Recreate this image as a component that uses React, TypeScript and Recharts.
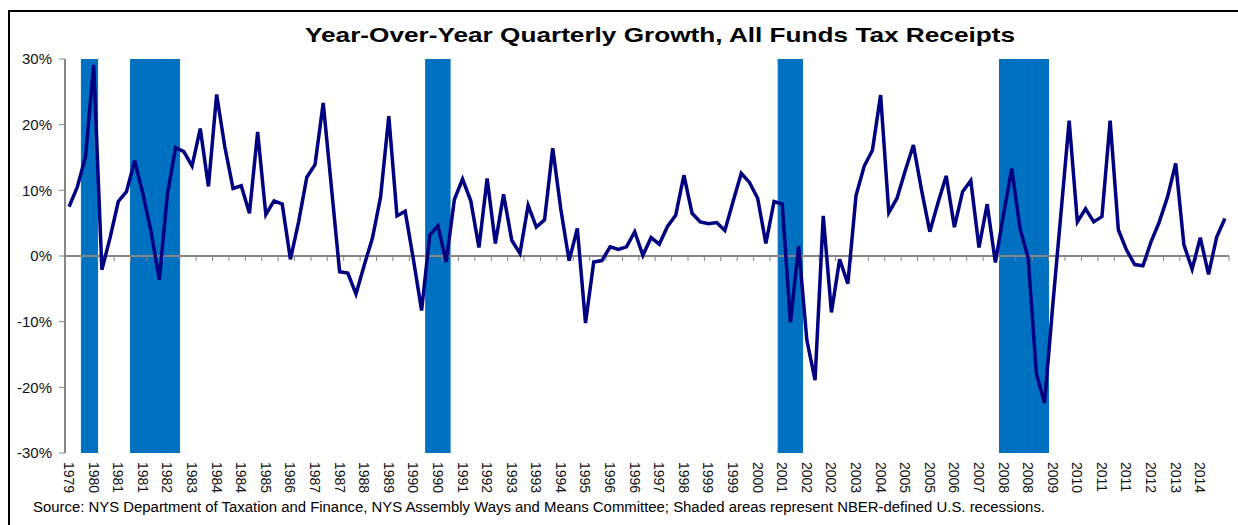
import { ComposedChart, Bar, Line, XAxis, YAxis, ReferenceLine } from 'recharts'

// Year-over-year growth of all funds tax receipts, % (1979Q3 .. 2014Q4)
const growth = [
  7.5, 10.5, 15.1, 29.1, -2.1, 2.8, 8.3, 9.8, 14.5, 9.5,
  3.7, -3.6, 9.5, 16.5, 15.9, 13.7, 19.4, 10.6, 24.6, 16.6,
  10.3, 10.7, 6.5, 18.9, 6.3, 8.4, 7.9, -0.5, 5.2, 12.0,
  13.9, 23.3, 10.5, -2.4, -2.6, -5.8, -1.4, 2.7, 9.0, 21.3,
  6.1, 6.8, -0.5, -8.3, 3.2, 4.6, -0.9, 8.6, 11.7, 8.4,
  1.3, 11.8, 1.9, 9.4, 2.4, 0.4, 7.7, 4.4, 5.5, 16.4,
  7.0, -0.7, 4.2, -10.2, -0.9, -0.7, 1.4, 1.0, 1.4, 3.7,
  0.1, 2.8, 1.8, 4.5, 6.2, 12.3, 6.5, 5.2, 4.9, 5.1,
  3.9, 8.3, 12.6, 11.2, 8.8, 1.9, 8.3, 7.9, -10.1, 1.5,
  -12.8, -18.9, 6.1, -8.6, -0.5, -4.2, 9.2, 13.7, 16.1, 24.5,
  6.6, 8.8, 13.0, 16.9, 10.0, 3.7, 8.1, 12.2, 4.4, 9.8,
  11.5, 1.3, 7.9, -1.0, 6.4, 13.3, 4.2, -0.3, -17.9, -22.4,
  -7.5, 6.5, 20.6, 5.2, 7.2, 5.2, 6.0, 20.6, 4.0, 0.9,
  -1.3, -1.5, 2.2, 5.2, 9.0, 14.1, 1.7, -2.0, 2.8, -2.8,
  2.9, 5.7,
]

// NBER recession quarters
const recessions = [
  '1980Q1', '1980Q2',
  '1981Q3', '1981Q4', '1982Q1', '1982Q2', '1982Q3', '1982Q4',
  '1990Q3', '1990Q4', '1991Q1',
  '2001Q2', '2001Q3', '2001Q4',
  '2008Q1', '2008Q2', '2008Q3', '2008Q4', '2009Q1', '2009Q2',
]

// labels shown on every third quarter
const tickLabels = [
  '1979', '1980', '1981', '1981', '1982', '1983', '1984', '1984',
  '1985', '1986', '1987', '1987', '1988', '1989', '1990', '1990',
  '1991', '1992', '1993', '1993', '1994', '1995', '1996', '1996',
  '1997', '1998', '1999', '1999', '2000', '2001', '2002', '2002',
  '2003', '2004', '2005', '2005', '2006', '2007', '2008', '2008',
  '2009', '2010', '2011', '2011', '2012', '2013', '2014',
]

const yTicks = [-30, -20, -10, 0, 10, 20, 30]

const startYear = 1979
const startQuarter = 3

const quarters = growth.map((_, i) => {
  const q = startQuarter - 1 + i
  return `${startYear + Math.floor(q / 4)}Q${(q % 4) + 1}`
})
const tickQuarters = quarters.filter((_, i) => i % 3 === 0)

const chartData = quarters.map((q, i) => ({
  quarter: q,
  growth: growth[i],
  rec: recessions.includes(q) ? [-30, 30] : null,
}))

const FONT = '"Liberation Sans", Arial, sans-serif'

const YearTick = (props: any) => {
  const { x, y, payload } = props
  const label = tickLabels[tickQuarters.indexOf(payload.value)]
  return (
    <g transform={`translate(${x},${y})`}>
      <text transform="rotate(90)" x={0} y={0} dy="0.36em" textAnchor="start" fontSize={14} fill="#111" fontFamily={FONT}>
        {label}
      </text>
    </g>
  )
}

// zero axis line with tick marks every two quarters
const ZeroAxis = (props: any) => {
  const { x1, y1, x2 } = props
  const step = (x2 - x1) / quarters.length
  const marks = []
  for (let k = 0; k <= quarters.length; k += 2) {
    const x = x1 + k * step
    marks.push(<line key={k} x1={x} x2={x} y1={y1} y2={y1 + 5} stroke="#868686" strokeWidth={1} />)
  }
  return (
    <g>
      <line x1={x1} x2={x2} y1={y1} y2={y1} stroke="#868686" strokeWidth={2} />
      {marks}
    </g>
  )
}

export default function App() {
  return (
    <div style={{ position: 'relative', marginLeft: 8, marginTop: 8, width: 1230, height: 517, background: '#fff', overflow: 'hidden' }}>
      <style>{'html, body { margin: 0; overflow: hidden; }'}</style>
      <div
        style={{
          position: 'absolute', left: 0, top: 2, width: 1240, height: 520,
          borderLeft: '2px solid #000', borderTop: '2px solid #000',
        }}
      />
      <div style={{ position: 'absolute', left: 0, top: 0 }}>
        <ComposedChart
          width={1230}
          height={500}
          data={chartData}
          margin={{ top: 51, right: 9, bottom: 5, left: 0 }}
          barCategoryGap={0}
          barGap={0}
        >
          <XAxis
            dataKey="quarter"
            ticks={tickQuarters}
            interval={0}
            axisLine={false}
            tickLine={false}
            tickSize={0}
            tickMargin={9}
            height={50}
            tick={<YearTick />}
          />
          <YAxis
            domain={[-30, 30]}
            ticks={yTicks}
            width={57}
            tickFormatter={(v: number) => `${v}%`}
            axisLine={{ stroke: '#868686', strokeWidth: 2 }}
            tickLine={{ stroke: '#868686' }}
            tickSize={6}
            tickMargin={7}
            tick={{ fontSize: 15, fill: '#111', fontFamily: FONT }}
            allowDataOverflow
          />
          <Bar dataKey="rec" fill="#0070C0" stroke="#0070C0" strokeWidth={1} isAnimationActive={false} />
          <ReferenceLine y={0} shape={<ZeroAxis />} />
          <Line
            type="linear"
            dataKey="growth"
            stroke="#000080"
            strokeWidth={3.5}
            dot={false}
            activeDot={false}
            isAnimationActive={false}
          />
        </ComposedChart>
      </div>
      <svg width={1230} height={517} style={{ position: 'absolute', left: 0, top: 0, pointerEvents: 'none' }}>
        <text x={297} y={34} fontSize={21} fontWeight="bold" fill="#000" fontFamily={FONT} textLength={710} lengthAdjust="spacingAndGlyphs">
          Year-Over-Year Quarterly Growth, All Funds Tax Receipts
        </text>
        <text x={25} y={504} fontSize={14} fill="#000" fontFamily={FONT} textLength={1012} lengthAdjust="spacingAndGlyphs">
          Source: NYS Department of Taxation and Finance, NYS Assembly Ways and Means Committee;  Shaded areas represent NBER-defined  U.S. recessions.
        </text>
      </svg>
    </div>
  )
}
